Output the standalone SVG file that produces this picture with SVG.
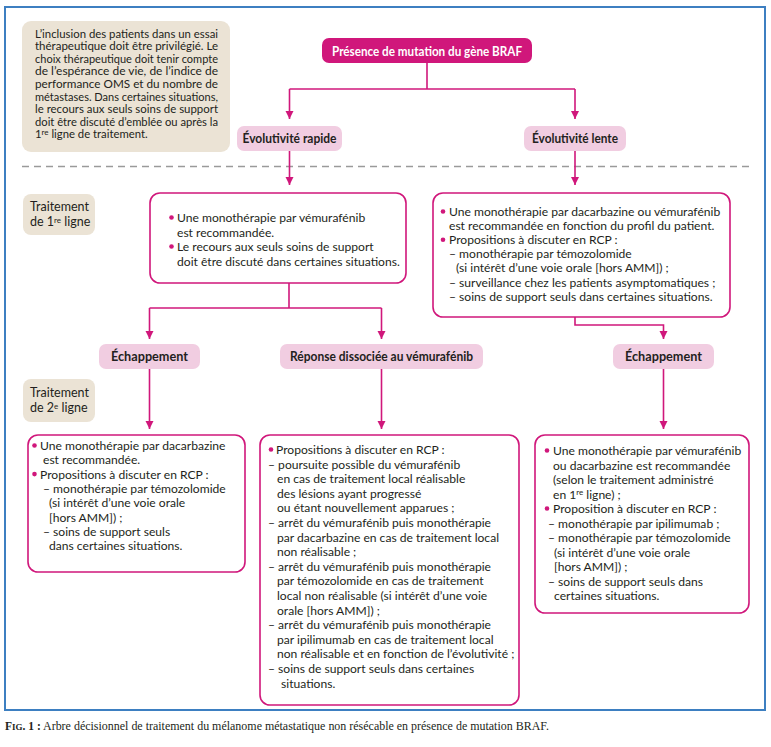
<svg xmlns="http://www.w3.org/2000/svg" width="771" height="747" viewBox="0 0 771 747">
<defs>
<style>
.t{font-family:Lato,"Open Sans","Liberation Sans",sans-serif;font-size:12.1px;fill:#231f20}
.n{font-family:Lato,"Open Sans","Liberation Sans",sans-serif;font-size:11.3px;fill:#231f20}
.b{font-family:Lato,"Open Sans","Liberation Sans",sans-serif;font-size:12.5px;font-weight:bold;fill:#231f20;text-anchor:middle}
.w{fill:#ffffff}
.pink{fill:#f1cde1}
.beige{fill:#ebe3d5}
.box{fill:#ffffff;stroke:#d0177b;stroke-width:1.6}
.dot{fill:#d0177b}
.c{fill:none;stroke:#d0177b;stroke-width:1.6}
.sup{font-size:8px}
.cap{font-family:"Liberation Serif","DejaVu Serif",serif;font-size:11.5px;fill:#231f20}
</style>
<marker id="ah" viewBox="0 0 10 10" refX="10" refY="5" markerWidth="8" markerHeight="9" markerUnits="userSpaceOnUse" orient="auto">
<path d="M0,0 L10,5 L0,10 z" fill="#d0177b"/>
</marker>
</defs>
<rect width="771" height="747" fill="#ffffff"/>
<rect id="frame" x="5" y="7" width="760" height="703" fill="none" stroke="#3d7fc1" stroke-width="2"/>
<line id="separator" x1="22" y1="166.5" x2="752" y2="166.5" stroke="#9a9a9a" stroke-width="1.4" stroke-dasharray="7,5"/>

<g id="connectors">
<line class="c" x1="427" y1="63" x2="427" y2="89"/>
<line class="c" x1="289.5" y1="89" x2="575" y2="89"/>
<line class="c" x1="289.5" y1="89" x2="289.5" y2="119" marker-end="url(#ah)"/>
<line class="c" x1="575" y1="89" x2="575" y2="119" marker-end="url(#ah)"/>
<line class="c" x1="289.5" y1="151" x2="289.5" y2="185" marker-end="url(#ah)"/>
<line class="c" x1="575" y1="151" x2="575" y2="185" marker-end="url(#ah)"/>
<line class="c" x1="289" y1="283" x2="289" y2="308"/>
<line class="c" x1="149.5" y1="308" x2="381.5" y2="308"/>
<line class="c" x1="149.5" y1="308" x2="149.5" y2="339" marker-end="url(#ah)"/>
<line class="c" x1="381.5" y1="308" x2="381.5" y2="339" marker-end="url(#ah)"/>
<polyline class="c" points="575,317 575,325 663.5,325 663.5,339" marker-end="url(#ah)"/>
<line class="c" x1="149.5" y1="369" x2="149.5" y2="429" marker-end="url(#ah)"/>
<line class="c" x1="381.5" y1="369" x2="381.5" y2="429" marker-end="url(#ah)"/>
<line class="c" x1="663.5" y1="369" x2="663.5" y2="429" marker-end="url(#ah)"/>
</g>

<g id="note">
<rect class="beige" x="22" y="21" width="208" height="131" rx="9"/>
<text class="n" x="35" y="37.5" textLength="183" lengthAdjust="spacingAndGlyphs">L’inclusion des patients dans un essai</text>
<text class="n" x="35" y="50.1" textLength="183" lengthAdjust="spacingAndGlyphs">thérapeutique doit être privilégié. Le</text>
<text class="n" x="35" y="62.7" textLength="183" lengthAdjust="spacingAndGlyphs">choix thérapeutique doit tenir compte</text>
<text class="n" x="35" y="75.3" textLength="183" lengthAdjust="spacingAndGlyphs">de l’espérance de vie, de l’indice de</text>
<text class="n" x="35" y="87.9" textLength="183" lengthAdjust="spacingAndGlyphs">performance OMS et du nombre de</text>
<text class="n" x="35" y="100.5" textLength="183" lengthAdjust="spacingAndGlyphs">métastases. Dans certaines situations,</text>
<text class="n" x="35" y="113.1" textLength="183" lengthAdjust="spacingAndGlyphs">le recours aux seuls soins de support</text>
<text class="n" x="35" y="125.7" textLength="183" lengthAdjust="spacingAndGlyphs">doit être discuté d’emblée ou après la</text>
<text class="n" x="35" y="138.3">1<tspan class="sup" dy="-3">re</tspan><tspan dy="3"> ligne de traitement.</tspan></text>
</g>

<g id="root">
<rect x="322" y="38" width="210" height="25" rx="7" fill="#d0177b"/>
<text class="b w" x="427" y="55.5" textLength="190" lengthAdjust="spacingAndGlyphs" style="font-size:13px">Présence de mutation du gène BRAF</text>
</g>

<g id="evo-rapide">
<rect class="pink" x="237" y="126" width="105" height="25" rx="7"/>
<text class="b" x="289.5" y="143" textLength="94" lengthAdjust="spacingAndGlyphs">Évolutivité rapide</text>
</g>
<g id="evo-lente">
<rect class="pink" x="524" y="126" width="102" height="25" rx="7"/>
<text class="b" x="575" y="143" textLength="86" lengthAdjust="spacingAndGlyphs">Évolutivité lente</text>
</g>

<g id="label-1re">
<rect class="beige" x="23" y="194" width="72" height="41" rx="8"/>
<text class="t" x="30" y="211" style="font-size:12.5px">Traitement</text>
<text class="t" x="30" y="226" style="font-size:12.5px">de 1<tspan class="sup" dy="-3.5">re</tspan><tspan dy="3.5"> ligne</tspan></text>
</g>

<g id="box-1re-rapide">
<rect class="box" x="150" y="193" width="256" height="90" rx="10"/>
<circle class="dot" cx="171.5" cy="217.5" r="2.3"/>
<text class="t" x="177" y="222">Une monothérapie par vémurafénib</text>
<text class="t" x="177" y="236.5">est recommandée.</text>
<circle class="dot" cx="171.5" cy="246.5" r="2.3"/>
<text class="t" x="177" y="251">Le recours aux seuls soins de support</text>
<text class="t" x="177" y="265.5">doit être discuté dans certaines situations.</text>
</g>

<g id="box-1re-lente">
<rect class="box" x="433" y="193" width="297" height="124" rx="10"/>
<circle class="dot" cx="443" cy="211.5" r="2.3"/>
<text class="t" x="449" y="216">Une monothérapie par dacarbazine ou vémurafénib</text>
<text class="t" x="449" y="230.1">est recommandée en fonction du profil du patient.</text>
<circle class="dot" cx="443" cy="239.7" r="2.3"/>
<text class="t" x="449" y="244.2">Propositions à discuter en RCP :</text>
<text class="t" x="449" y="258.3">– monothérapie par témozolomide</text>
<text class="t" x="456" y="272.4">(si intérêt d’une voie orale [hors AMM]) ;</text>
<text class="t" x="449" y="286.5">– surveillance chez les patients asymptomatiques ;</text>
<text class="t" x="449" y="300.6">– soins de support seuls dans certaines situations.</text>
</g>

<g id="echap-rapide">
<rect class="pink" x="99" y="344" width="101" height="25" rx="7"/>
<text class="b" x="149.5" y="361" textLength="77" lengthAdjust="spacingAndGlyphs">Échappement</text>
</g>
<g id="reponse">
<rect class="pink" x="280" y="344" width="203" height="25" rx="7"/>
<text class="b" x="381.5" y="361" textLength="183" lengthAdjust="spacingAndGlyphs">Réponse dissociée au vémurafénib</text>
</g>
<g id="echap-lente">
<rect class="pink" x="613" y="344" width="101" height="25" rx="7"/>
<text class="b" x="663.5" y="361" textLength="77" lengthAdjust="spacingAndGlyphs">Échappement</text>
</g>

<g id="label-2e">
<rect class="beige" x="23" y="379" width="72" height="43" rx="8"/>
<text class="t" x="30" y="397" style="font-size:12.5px">Traitement</text>
<text class="t" x="30" y="412" style="font-size:12.5px">de 2<tspan class="sup" dy="-3.5">e</tspan><tspan dy="3.5"> ligne</tspan></text>
</g>

<g id="box-2e-left">
<rect class="box" x="28" y="435" width="217" height="137" rx="10"/>
<circle class="dot" cx="34.5" cy="445.5" r="2.3"/>
<text class="t" x="40" y="450">Une monothérapie par dacarbazine</text>
<text class="t" x="43" y="464.3">est recommandée.</text>
<circle class="dot" cx="34.5" cy="474.1" r="2.3"/>
<text class="t" x="40" y="478.6">Propositions à discuter en RCP :</text>
<text class="t" x="43" y="492.9">– monothérapie par témozolomide</text>
<text class="t" x="49" y="507.2">(si intérêt d’une voie orale</text>
<text class="t" x="49" y="521.5">[hors AMM]) ;</text>
<text class="t" x="43" y="535.8">– soins de support seuls</text>
<text class="t" x="49" y="550.1">dans certaines situations.</text>
</g>

<g id="box-2e-mid">
<rect class="box" x="260" y="435" width="259" height="270" rx="10"/>
<circle class="dot" cx="271" cy="449.5" r="2.3"/>
<text class="t" x="276" y="454">Propositions à discuter en RCP :</text>
<text class="t" x="268" y="468.6">– poursuite possible du vémurafénib</text>
<text class="t" x="277" y="483.2">en cas de traitement local réalisable</text>
<text class="t" x="277" y="497.8">des lésions ayant progressé</text>
<text class="t" x="277" y="512.4">ou étant nouvellement apparues ;</text>
<text class="t" x="268" y="527">– arrêt du vémurafénib puis monothérapie</text>
<text class="t" x="277" y="541.6">par dacarbazine en cas de traitement local</text>
<text class="t" x="277" y="556.2">non réalisable ;</text>
<text class="t" x="268" y="570.8">– arrêt du vémurafénib puis monothérapie</text>
<text class="t" x="277" y="585.4">par témozolomide en cas de traitement</text>
<text class="t" x="277" y="600">local non réalisable (si intérêt d’une voie</text>
<text class="t" x="277" y="614.6">orale [hors AMM]) ;</text>
<text class="t" x="268" y="629.2">– arrêt du vémurafénib puis monothérapie</text>
<text class="t" x="277" y="643.8">par ipilimumab en cas de traitement local</text>
<text class="t" x="277" y="658.4">non réalisable et en fonction de l’évolutivité ;</text>
<text class="t" x="268" y="673">– soins de support seuls dans certaines</text>
<text class="t" x="281" y="687.6">situations.</text>
</g>

<g id="box-2e-right">
<rect class="box" x="535" y="435" width="214" height="178" rx="10"/>
<circle class="dot" cx="547" cy="450.5" r="2.3"/>
<text class="t" x="553" y="455">Une monothérapie par vémurafénib</text>
<text class="t" x="553" y="469.5">ou dacarbazine est recommandée</text>
<text class="t" x="553" y="484">(selon le traitement administré</text>
<text class="t" x="553" y="498.5">en 1<tspan class="sup" dy="-3.5">re</tspan><tspan dy="3.5"> ligne) ;</tspan></text>
<circle class="dot" cx="547" cy="508.5" r="2.3"/>
<text class="t" x="553" y="513">Proposition à discuter en RCP :</text>
<text class="t" x="548" y="527.5">– monothérapie par ipilimumab ;</text>
<text class="t" x="548" y="542">– monothérapie par témozolomide</text>
<text class="t" x="554" y="556.5">(si intérêt d’une voie orale</text>
<text class="t" x="554" y="571">[hors AMM]) ;</text>
<text class="t" x="548" y="585.5">– soins de support seuls dans</text>
<text class="t" x="554" y="600">certaines situations.</text>
</g>

<g id="caption">
<text class="cap" x="5" y="730"><tspan font-weight="bold">F<tspan font-size="9px">IG</tspan>. 1 :</tspan> <tspan textLength="506" lengthAdjust="spacingAndGlyphs">Arbre décisionnel de traitement du mélanome métastatique non résécable en présence de mutation BRAF.</tspan></text>
</g>
</svg>
